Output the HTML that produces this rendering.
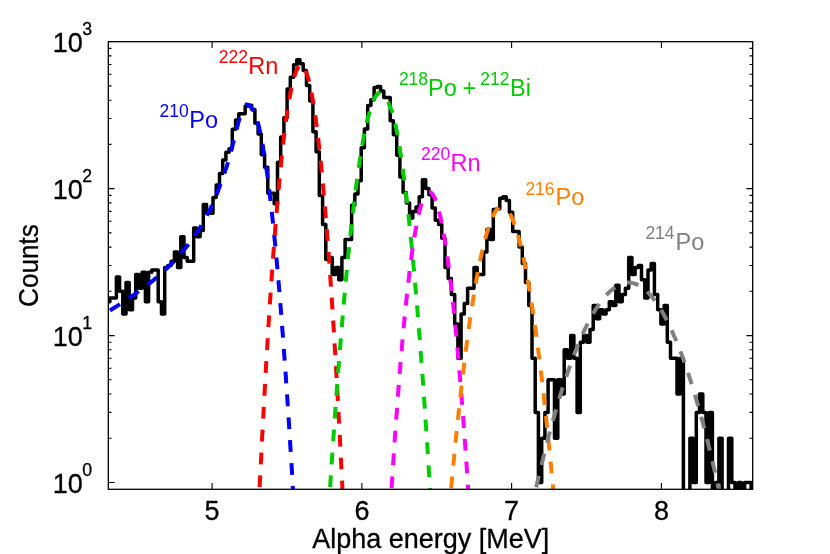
<!DOCTYPE html><html><head><meta charset="utf-8"><style>html,body{margin:0;padding:0;background:#fff;}svg{display:block;will-change:transform;}text{font-family:"Liberation Sans",sans-serif;stroke-width:0.3px;stroke-linejoin:round;}text.k{stroke:#000;}</style></head><body>
<svg width="830" height="554" viewBox="0 0 830 554">
<rect width="830" height="554" fill="#fff"/>
<defs><clipPath id="c"><rect x="108.3" y="41.7" width="644.4000000000001" height="447.6"/></clipPath></defs>
<g clip-path="url(#c)" fill="none" stroke="#000" stroke-width="3.5" stroke-linejoin="round" stroke-linecap="butt">
<path d="M105.1,301.7 L109.9,301.7 L109.9,298.1 L113.1,298.1 L113.1,298.1 L116.4,298.1 L116.4,277.1 L119.6,277.1 L119.6,291.3 L122.8,291.3 L122.8,314.1 L126.0,314.1 L126.0,282.4 L129.2,282.4 L129.2,309.7 L132.5,309.7 L132.5,298.1 L135.7,298.1 L135.7,274.6 L138.9,274.6 L138.9,288.2 L142.1,288.2 L142.1,272.2 L145.4,272.2 L145.4,301.7 L148.6,301.7 L148.6,272.2 L151.8,272.2 L151.8,269.9 L155.0,269.9 L155.0,269.9 L158.2,269.9 L158.2,301.7 L161.5,301.7 L161.5,314.1 L164.7,314.1 L164.7,267.6 L167.9,267.6 L167.9,265.5 L171.1,265.5 L171.1,261.3 L174.4,261.3 L174.4,252.1 L177.6,252.1 L177.6,267.6 L180.8,267.6 L180.8,236.8 L184.0,236.8 L184.0,257.5 L187.2,257.5 L187.2,261.3 L190.5,261.3 L190.5,261.3 L193.7,261.3 L193.7,228.0 L196.9,228.0 L196.9,236.8 L200.1,236.8 L200.1,230.4 L203.3,230.4 L203.3,204.5 L206.6,204.5 L206.6,213.2 L209.8,213.2 L209.8,213.2 L213.0,213.2 L213.0,197.5 L216.2,197.5 L216.2,184.9 L219.5,184.9 L219.5,173.4 L222.7,173.4 L222.7,159.9 L225.9,159.9 L225.9,152.2 L229.1,152.2 L229.1,148.7 L232.3,148.7 L232.3,129.2 L235.6,129.2 L235.6,120.0 L238.8,120.0 L238.8,113.8 L242.0,113.8 L242.0,113.8 L245.2,113.8 L245.2,106.0 L248.5,106.0 L248.5,105.2 L251.7,105.2 L251.7,109.6 L254.9,109.6 L254.9,123.2 L258.1,123.2 L258.1,134.1 L261.3,134.1 L261.3,154.8 L264.6,154.8 L264.6,167.2 L267.8,167.2 L267.8,193.3 L271.0,193.3 L271.0,193.3 L274.2,193.3 L274.2,203.7 L277.5,203.7 L277.5,162.3 L280.7,162.3 L280.7,136.9 L283.9,136.9 L283.9,117.7 L287.1,117.7 L287.1,88.9 L290.3,88.9 L290.3,77.2 L293.6,77.2 L293.6,64.7 L296.8,64.7 L296.8,59.8 L300.0,59.8 L300.0,63.7 L303.2,63.7 L303.2,70.5 L306.5,70.5 L306.5,85.4 L309.7,85.4 L309.7,101.1 L312.9,101.1 L312.9,131.7 L316.1,131.7 L316.1,151.8 L319.3,151.8 L319.3,195.4 L322.6,195.4 L322.6,224.5 L325.8,224.5 L325.8,259.4 L329.0,259.4 L329.0,257.5 L332.2,257.5 L332.2,274.6 L335.5,274.6 L335.5,267.6 L338.7,267.6 L338.7,279.7 L341.9,279.7 L341.9,257.5 L345.1,257.5 L345.1,239.6 L348.3,239.6 L348.3,239.6 L351.6,239.6 L351.6,205.3 L354.8,205.3 L354.8,194.0 L358.0,194.0 L358.0,180.8 L361.2,180.8 L361.2,147.7 L364.4,147.7 L364.4,128.9 L367.7,128.9 L367.7,105.5 L370.9,105.5 L370.9,99.7 L374.1,99.7 L374.1,87.4 L377.3,87.4 L377.3,86.6 L380.6,86.6 L380.6,91.1 L383.8,91.1 L383.8,97.5 L387.0,97.5 L387.0,97.5 L390.2,97.5 L390.2,120.7 L393.4,120.7 L393.4,134.7 L396.7,134.7 L396.7,155.2 L399.9,155.2 L399.9,177.0 L403.1,177.0 L403.1,192.6 L406.3,192.6 L406.3,202.9 L409.6,202.9 L409.6,218.1 L412.8,218.1 L412.8,211.4 L416.0,211.4 L416.0,207.0 L419.2,207.0 L419.2,196.8 L422.4,196.8 L422.4,179.7 L425.7,179.7 L425.7,188.6 L428.9,188.6 L428.9,194.7 L432.1,194.7 L432.1,207.9 L435.3,207.9 L435.3,220.2 L438.6,220.2 L438.6,224.5 L441.8,224.5 L441.8,238.2 L445.0,238.2 L445.0,267.6 L448.2,267.6 L448.2,278.4 L451.4,278.4 L451.4,294.6 L454.7,294.6 L454.7,323.9 L457.9,323.9 L457.9,358.3 L461.1,358.3 L461.1,314.1 L464.3,314.1 L464.3,303.6 L467.6,303.6 L467.6,288.2 L470.8,288.2 L470.8,288.2 L474.0,288.2 L474.0,267.6 L477.2,267.6 L477.2,274.6 L480.4,274.6 L480.4,274.6 L483.7,274.6 L483.7,252.1 L486.9,252.1 L486.9,229.2 L490.1,229.2 L490.1,239.6 L493.3,239.6 L493.3,209.6 L496.6,209.6 L496.6,208.7 L499.8,208.7 L499.8,198.3 L503.0,198.3 L503.0,196.8 L506.2,196.8 L506.2,200.5 L509.4,200.5 L509.4,212.3 L512.7,212.3 L512.7,231.6 L515.9,231.6 L515.9,231.6 L519.1,231.6 L519.1,247.1 L522.3,247.1 L522.3,263.4 L525.5,263.4 L525.5,282.4 L528.8,282.4 L528.8,305.6 L532.0,305.6 L532.0,358.3 L535.2,358.3 L535.2,412.4 L538.4,412.4 L538.4,482.5 L541.7,482.5 L541.7,438.3 L544.9,438.3 L544.9,412.4 L548.1,412.4 L548.1,379.8 L551.3,379.8 L551.3,379.8 L554.5,379.8 L554.5,438.3 L557.8,438.3 L557.8,379.8 L561.0,379.8 L561.0,394.0 L564.2,394.0 L564.2,349.8 L567.4,349.8 L567.4,358.3 L570.7,358.3 L570.7,335.6 L573.9,335.6 L573.9,358.3 L577.1,358.3 L577.1,412.4 L580.3,412.4 L580.3,342.3 L583.5,342.3 L583.5,335.6 L586.8,335.6 L586.8,342.3 L590.0,342.3 L590.0,329.5 L593.2,329.5 L593.2,305.6 L596.4,305.6 L596.4,318.8 L599.7,318.8 L599.7,309.7 L602.9,309.7 L602.9,314.1 L606.1,314.1 L606.1,309.7 L609.3,309.7 L609.3,301.7 L612.5,301.7 L612.5,305.6 L615.8,305.6 L615.8,285.3 L619.0,285.3 L619.0,301.7 L622.2,301.7 L622.2,294.6 L625.4,294.6 L625.4,288.2 L628.7,288.2 L628.7,257.5 L631.9,257.5 L631.9,274.6 L635.1,274.6 L635.1,267.6 L638.3,267.6 L638.3,265.5 L641.5,265.5 L641.5,279.7 L644.8,279.7 L644.8,298.1 L648.0,298.1 L648.0,269.9 L651.2,269.9 L651.2,263.4 L654.4,263.4 L654.4,294.6 L657.7,294.6 L657.7,309.7 L660.9,309.7 L660.9,323.9 L664.1,323.9 L664.1,305.6 L667.3,305.6 L667.3,342.3 L670.5,342.3 L670.5,358.3 L673.8,358.3 L673.8,358.3 L677.0,358.3 L677.0,394.0 L680.2,394.0 L680.2,358.3 L683.4,358.3 L683.4,520.0 L686.6,520.0 L686.6,520.0 L689.9,520.0 L689.9,438.3 L693.1,438.3 L693.1,482.5 L696.3,482.5 L696.3,412.4 L699.5,412.4 L699.5,394.0 L702.8,394.0 L702.8,412.4 L706.0,412.4 L706.0,482.5 L709.2,482.5 L709.2,412.4 L712.4,412.4 L712.4,520.0 L715.6,520.0 L715.6,482.5 L718.9,482.5 L718.9,438.3 L722.1,438.3 L722.1,520.0 L725.3,520.0 L725.3,520.0 L728.5,520.0 L728.5,438.3 L731.8,438.3 L731.8,482.5 L735.0,482.5 L735.0,520.0 L738.2,520.0 L738.2,482.5 L741.4,482.5 L741.4,520.0 L744.6,520.0 L744.6,482.5 L747.9,482.5 L747.9,482.5 L751.1,482.5 L751.1,520.0 L754.3,520.0"/>
</g>
<g clip-path="url(#c)" fill="none" stroke-linecap="butt" stroke-linejoin="round">
<path d="M100.0,316.0 L100.6,315.7 L101.4,315.3 L102.3,314.8 L103.4,314.2 L104.6,313.6 L105.8,312.9 L107.0,312.2 L108.3,311.5 L109.6,310.7 L111.1,309.8 L112.7,308.8 L114.3,307.8 L115.9,306.8 L117.4,305.8 L118.9,304.9 L120.2,304.0 L121.4,303.2 L122.5,302.5 L123.4,301.9 L124.4,301.2 L125.3,300.6 L126.3,300.0 L127.3,299.3 L128.4,298.5 L129.6,297.6 L131.0,296.7 L132.3,295.8 L133.8,294.8 L135.2,293.8 L136.5,292.8 L137.9,291.9 L139.1,291.0 L140.2,290.2 L141.3,289.4 L142.3,288.7 L143.2,288.0 L144.2,287.3 L145.2,286.6 L146.2,285.8 L147.3,285.0 L148.5,284.1 L149.8,283.1 L151.1,282.1 L152.4,281.0 L153.7,280.0 L155.0,278.9 L156.3,277.9 L157.4,277.0 L158.4,276.1 L159.3,275.3 L160.2,274.6 L161.0,273.8 L161.8,273.1 L162.6,272.3 L163.5,271.4 L164.5,270.5 L165.6,269.5 L166.8,268.4 L168.0,267.2 L169.2,266.1 L170.5,264.9 L171.7,263.7 L172.8,262.6 L173.9,261.5 L174.8,260.5 L175.7,259.6 L176.5,258.7 L177.2,257.8 L178.0,256.9 L178.7,256.0 L179.5,255.0 L180.4,254.0 L181.3,252.9 L182.3,251.8 L183.3,250.6 L184.3,249.3 L185.4,248.1 L186.4,246.9 L187.4,245.7 L188.3,244.5 L189.2,243.4 L190.0,242.3 L190.8,241.2 L191.6,240.1 L192.4,239.0 L193.2,237.9 L194.0,236.7 L194.8,235.5 L195.7,234.2 L196.6,232.8 L197.6,231.4 L198.5,229.9 L199.5,228.5 L200.4,227.1 L201.2,225.7 L202.0,224.5 L202.7,223.4 L203.2,222.4 L203.8,221.5 L204.2,220.6 L204.7,219.7 L205.2,218.8 L205.8,217.7 L206.4,216.5 L207.1,215.1 L207.9,213.6 L208.7,212.0 L209.6,210.3 L210.5,208.6 L211.3,206.8 L212.1,205.1 L212.9,203.5 L213.6,201.9 L214.3,200.4 L214.9,198.8 L215.5,197.3 L216.2,195.8 L216.8,194.2 L217.4,192.6 L218.0,191.0 L218.6,189.3 L219.3,187.6 L219.9,185.8 L220.5,184.0 L221.2,182.2 L221.8,180.5 L222.4,178.7 L223.0,177.0 L223.6,175.3 L224.2,173.7 L224.8,172.1 L225.3,170.4 L225.9,168.8 L226.5,167.2 L227.0,165.6 L227.5,164.0 L228.0,162.4 L228.4,160.8 L228.9,159.1 L229.3,157.5 L229.7,155.9 L230.1,154.2 L230.6,152.6 L231.0,151.0 L231.4,149.4 L231.9,147.7 L232.3,146.1 L232.8,144.4 L233.2,142.8 L233.7,141.2 L234.1,139.6 L234.5,138.0 L234.9,136.4 L235.3,134.9 L235.7,133.4 L236.0,131.8 L236.4,130.3 L236.8,128.9 L237.1,127.4 L237.5,126.0 L237.9,124.6 L238.2,123.2 L238.6,121.8 L239.0,120.5 L239.4,119.2 L239.8,117.9 L240.1,116.7" stroke="#0000ff" stroke-width="4.0" stroke-dasharray="11.8,11.1" stroke-dashoffset="11.54"/>
<path d="M243.4,105.6 L243.7,105.4 L244.1,105.2 L244.6,105.0 L245.0,104.8 L245.4,104.7 L245.7,104.6 L246.1,104.5 L246.5,104.5 L247.0,104.5 L247.5,104.6 L248.0,104.8 L248.5,105.0 L249.0,105.3 L249.5,105.7 L250.0,106.1 L250.5,106.6 L251.0,107.2 L251.5,107.8 L252.0,108.5 L252.5,109.2 L253.0,110.0 L253.6,110.9 L254.1,111.7 L254.5,112.3 L254.9,113.0 L255.4,114.5 L256.0,116.2 L256.6,118.0 L257.2,120.0 L257.7,122.0 L258.3,124.2 L258.9,126.5 L259.4,129.0 L260.0,131.5 L260.6,134.2 L261.2,137.0 L261.7,139.9 L262.3,143.0 L262.9,146.2 L263.4,149.5 L264.0,152.9 L264.6,156.5 L265.2,160.2 L265.7,164.0 L266.3,167.9 L266.9,171.9 L267.5,176.1 L268.0,180.4 L268.6,184.9 L269.2,189.4 L269.7,194.1 L270.3,198.9 L270.9,203.8 L271.5,208.9 L272.0,214.1 L272.6,219.4 L273.2,224.8 L273.7,230.3 L274.3,236.0 L274.9,241.8 L275.5,247.7 L276.0,253.8 L276.6,260.0 L277.2,266.3 L277.8,272.7 L278.3,279.3 L278.9,285.9 L279.5,292.7 L280.0,299.7 L280.6,306.7 L281.2,313.9 L281.8,321.2 L282.3,328.6 L282.9,336.2 L283.5,343.8 L284.0,351.6 L284.6,359.6 L285.2,367.6 L285.8,375.8 L286.3,384.1 L286.9,392.5 L287.5,401.0 L288.0,409.7 L288.6,418.5 L289.2,427.4 L289.8,436.5 L290.3,445.7 L290.9,454.9 L291.5,464.4 L292.1,473.9 L292.6,483.6 L293.2,493.4 L293.8,503.3" stroke="#0000ff" stroke-width="4.0" stroke-dasharray="11.8,11.1" stroke-dashoffset="21.10"/>
<path d="M258.8,503.3 L259.9,481.7 L261.0,460.6 L262.0,440.1 L263.1,420.1 L264.1,400.7 L265.2,381.8 L266.2,363.5 L267.3,345.7 L268.3,328.5 L269.4,311.8 L270.4,295.6 L271.5,280.0 L272.5,265.0 L273.6,250.5 L274.7,236.5 L275.7,223.1 L276.8,210.2 L277.8,197.9 L278.9,186.2 L279.9,175.0 L281.0,164.3 L282.0,154.2 L283.1,144.6 L284.1,135.5 L285.2,127.1 L286.2,119.1 L287.3,111.7 L288.4,104.9 L289.4,98.6 L290.5,92.9 L291.5,87.7 L292.6,83.0 L293.6,78.9 L294.7,75.4 L295.7,72.3 L296.8,69.9 L297.8,68.0 L298.9,66.6 L299.9,65.8 L301.0,65.5" stroke="#ff0000" stroke-width="4.0" stroke-dasharray="11.8,11.1" stroke-dashoffset="6.80"/>
<path d="M301.0,65.5 L302.1,65.8 L303.1,66.6 L304.2,68.0 L305.2,69.9 L306.3,72.3 L307.3,75.4 L308.4,78.9 L309.4,83.0 L310.5,87.7 L311.5,92.9 L312.6,98.6 L313.6,104.9 L314.7,111.7 L315.8,119.1 L316.8,127.1 L317.9,135.5 L318.9,144.6 L320.0,154.2 L321.0,164.3 L322.1,175.0 L323.1,186.2 L324.2,197.9 L325.2,210.2 L326.3,223.1 L327.3,236.5 L328.4,250.5 L329.5,265.0 L330.5,280.0 L331.6,295.6 L332.6,311.8 L333.7,328.5 L334.7,345.7 L335.8,363.5 L336.8,381.8 L337.9,400.7 L338.9,420.1 L340.0,440.1 L341.0,460.6 L342.1,481.7 L343.2,503.3" stroke="#ff0000" stroke-width="4.0" stroke-dasharray="11.8,11.1" stroke-dashoffset="15.81"/>
<path d="M329.1,503.3 L329.7,493.0 L330.4,482.9 L331.0,472.9 L331.7,463.0 L332.4,453.3 L333.0,443.6 L333.7,434.1 L334.3,424.8 L335.0,415.5 L335.6,406.4 L336.3,397.5 L336.9,388.6 L337.6,379.9 L338.2,371.3 L338.9,362.8 L339.5,354.5 L340.2,346.3 L340.9,338.2 L341.5,330.3 L342.2,322.5 L342.8,314.8 L343.5,307.2 L344.1,299.8 L344.8,292.5 L345.4,285.3 L346.1,278.3 L346.7,271.4 L347.4,264.6 L348.0,258.0 L348.7,251.4 L349.4,245.1 L350.0,238.8 L350.7,232.7 L351.3,226.6 L352.0,220.8 L352.6,215.0 L353.3,209.4 L353.9,203.9 L354.6,198.6 L355.2,193.3 L355.9,188.2 L356.5,183.3 L357.2,178.4 L357.9,173.7 L358.5,169.1 L359.2,164.7 L359.8,160.3 L360.5,156.1 L361.1,152.1 L361.8,148.1 L362.4,144.3 L363.1,140.6 L363.7,137.1 L364.4,133.7 L365.1,130.4 L365.7,127.2 L366.4,124.2 L367.0,121.3 L367.7,118.5 L368.0,117.1 L368.4,115.9 L369.0,114.3 L369.6,112.4 L370.2,110.5 L370.8,108.6 L371.3,106.6 L371.9,104.6 L372.5,102.8 L373.1,101.2 L373.7,99.8 L374.3,98.5 L375.0,97.3 L375.7,96.2 L376.4,95.2 L377.2,94.3 L378.0,93.5 L378.9,92.7 L379.8,91.9 L380.8,91.3 L381.5,90.8 L382.1,90.5 L382.5,90.5 L382.8,90.5 L383.0,90.5" stroke="#00cc00" stroke-width="4.0" stroke-dasharray="11.8,11.1" stroke-dashoffset="6.72"/>
<path d="M386.4,96.5 L386.6,97.2 L387.0,98.3 L387.4,99.5 L387.8,100.8 L388.3,102.1 L388.8,103.5 L389.4,105.0 L390.0,106.5 L390.7,108.1 L391.4,109.9 L392.0,111.4 L392.5,112.5 L392.9,113.3 L393.5,115.8 L394.1,118.5 L394.7,121.3 L395.3,124.2 L396.0,127.2 L396.6,130.4 L397.2,133.7 L397.8,137.1 L398.5,140.6 L399.1,144.3 L399.7,148.1 L400.3,152.1 L401.0,156.1 L401.6,160.3 L402.2,164.7 L402.8,169.1 L403.5,173.7 L404.1,178.4 L404.7,183.3 L405.3,188.2 L405.9,193.3 L406.6,198.6 L407.2,203.9 L407.8,209.4 L408.4,215.0 L409.1,220.8 L409.7,226.6 L410.3,232.7 L410.9,238.8 L411.6,245.1 L412.2,251.4 L412.8,258.0 L413.4,264.6 L414.1,271.4 L414.7,278.3 L415.3,285.3 L415.9,292.5 L416.6,299.8 L417.2,307.2 L417.8,314.8 L418.4,322.5 L419.0,330.3 L419.7,338.2 L420.3,346.3 L420.9,354.5 L421.5,362.8 L422.2,371.3 L422.8,379.9 L423.4,388.6 L424.0,397.5 L424.7,406.4 L425.3,415.5 L425.9,424.8 L426.5,434.1 L427.2,443.6 L427.8,453.3 L428.4,463.0 L429.0,472.9 L429.7,482.9 L430.3,493.0 L430.9,503.3" stroke="#00cc00" stroke-width="4.0" stroke-dasharray="11.8,11.1" stroke-dashoffset="17.20"/>
<path d="M390.6,503.3 L391.1,495.6 L391.6,487.9 L392.1,480.4 L392.6,472.9 L393.0,465.6 L393.5,458.3 L394.0,451.2 L394.5,444.1 L394.9,437.2 L395.4,430.3 L395.9,423.5 L396.4,416.9 L396.9,410.3 L397.3,403.8 L397.8,397.4 L398.3,391.2 L398.8,385.0 L399.3,378.9 L399.7,372.9 L400.2,367.0 L400.7,361.2 L401.2,355.5 L401.7,349.9 L402.1,344.4 L402.6,339.0 L403.1,333.7 L403.6,328.5 L404.1,323.4 L404.5,318.4 L405.0,313.5 L405.5,308.7 L406.0,303.9 L406.5,299.3 L406.9,294.8 L407.4,290.4 L407.9,286.0 L408.4,281.8 L408.9,277.7 L409.3,273.6 L409.8,269.7 L410.3,265.8 L410.8,262.1 L411.3,258.4 L411.7,254.9 L412.2,251.4 L412.7,248.1 L413.2,244.8 L413.7,241.6 L414.1,238.6 L414.6,235.6 L415.1,232.7 L415.6,230.0 L416.1,227.3 L416.5,224.7 L417.0,222.2 L417.5,219.8 L418.0,217.5 L418.4,215.4 L418.9,213.3 L419.4,211.3 L419.9,209.4 L420.4,207.6 L420.8,205.9 L421.3,204.3 L421.8,202.8" stroke="#ff00ff" stroke-width="4.0" stroke-dasharray="11.8,11.1" stroke-dashoffset="7.67"/>
<path d="M429.0,191.8 L430.0,192.0 L431.0,192.6 L432.0,193.6 L433.0,194.9 L434.0,196.7 L435.0,198.8 L436.0,201.3 L437.0,204.3 L438.0,207.6 L439.0,211.3 L440.0,215.4 L441.0,219.8 L442.0,224.7 L443.0,230.0 L444.0,235.6 L445.0,241.6 L446.0,248.1 L447.1,254.9 L448.1,262.1 L449.1,269.7 L450.1,277.7 L451.1,286.0 L452.1,294.8 L453.1,303.9 L454.1,313.5 L455.1,323.4 L456.1,333.7 L457.1,344.4 L458.1,355.5 L459.1,367.0 L460.1,378.9 L461.1,391.2 L462.1,403.8 L463.1,416.9 L464.1,430.3 L465.1,444.1 L466.1,458.3 L467.1,472.9 L468.1,487.9 L469.1,503.3" stroke="#ff00ff" stroke-width="4.0" stroke-dasharray="11.8,11.1" stroke-dashoffset="22.85"/>
<path d="M449.8,503.3 L451.1,488.6 L452.4,474.3 L453.8,460.3 L455.1,446.7 L456.4,433.5 L457.8,420.7 L459.1,408.2 L460.4,396.1 L461.7,384.4 L463.1,373.0 L464.4,362.0 L465.7,351.4 L467.1,341.2 L468.4,331.3 L469.7,321.8 L471.1,312.7 L472.4,304.0 L473.7,295.6 L475.1,287.6 L476.4,279.9 L477.7,272.7 L479.0,265.8 L480.4,259.3 L481.7,253.1 L483.0,247.4 L484.4,242.0 L485.7,237.0 L487.0,232.3 L488.4,228.0 L489.7,224.1 L491.0,220.6 L492.4,217.4 L493.7,214.6 L495.0,212.2 L496.3,210.2 L497.7,208.5 L499.0,207.2 L500.3,206.2 L501.7,205.7 L503.0,205.5" stroke="#ff8000" stroke-width="4.0" stroke-dasharray="11.8,11.1" stroke-dashoffset="7.82"/>
<path d="M509.7,213.4 L510.4,214.6 L511.0,216.0 L511.7,217.4 L512.4,218.9 L513.0,220.6 L513.7,222.3 L514.4,224.1 L515.0,226.0 L515.7,228.0 L516.4,230.1 L517.0,232.3 L517.7,234.6 L518.4,237.0 L519.0,239.4 L519.7,242.0 L520.4,244.6 L521.0,247.4 L521.7,250.2 L522.4,253.1 L523.1,256.2 L523.7,259.3 L524.4,262.5 L525.1,265.8 L525.7,269.2 L526.4,272.7 L527.1,276.3 L527.7,280.0 L528.4,283.7 L529.1,287.6 L529.7,291.5 L530.4,295.6 L531.1,299.7 L531.7,304.0 L532.4,308.3 L533.1,312.7 L533.7,317.2 L534.4,321.8 L535.1,326.5 L535.7,331.3 L536.4,336.2 L537.1,341.2 L537.8,346.3 L538.4,351.4 L539.1,356.7 L539.8,362.0 L540.4,367.5 L541.1,373.0 L541.8,378.6 L542.4,384.4 L543.1,390.2 L543.8,396.1 L544.4,402.1 L545.1,408.2 L545.8,414.4 L546.4,420.7 L547.1,427.0 L547.8,433.5 L548.4,440.1 L549.1,446.7 L549.8,453.5 L550.5,460.3 L551.1,467.2 L551.8,474.3 L552.5,481.4 L553.1,488.6 L553.8,495.9 L554.5,503.3" stroke="#ff8000" stroke-width="4.0" stroke-dasharray="11.8,11.1" stroke-dashoffset="22.48"/>
<path d="M532.7,503.3 L533.9,497.8 L535.1,492.4 L536.3,487.1 L537.5,481.8 L538.7,476.6 L539.9,471.4 L541.1,466.4 L542.4,461.3 L543.6,456.4 L544.8,451.6 L546.0,446.8 L547.2,442.0 L548.4,437.4 L549.6,432.8 L550.8,428.3 L552.0,423.8 L553.2,419.4 L554.5,415.1 L555.7,410.9 L556.9,406.7 L558.1,402.6 L559.3,398.6 L560.5,394.6 L561.7,390.7 L562.9,386.9 L564.1,383.1 L565.4,379.4 L566.6,375.8 L567.8,372.2 L569.0,368.7 L570.2,365.3 L571.4,362.0 L572.6,358.7 L573.8,355.5 L575.0,352.4 L576.2,349.3 L577.5,346.3 L578.7,343.4 L579.9,340.5 L581.1,337.7 L582.3,335.0 L583.5,332.3 L584.7,329.7 L585.9,327.2 L587.1,324.8 L588.3,322.4 L589.6,320.1 L590.8,317.8 L592.0,315.7 L593.2,313.6 L594.4,311.5 L595.6,309.5 L596.8,307.7 L598.0,305.8 L599.2,304.1 L600.5,302.4 L601.7,300.8 L602.9,299.2 L604.1,297.7 L605.3,296.3 L606.5,295.0 L607.7,293.7 L608.9,292.5 L610.1,291.3 L611.3,290.3 L612.6,289.3 L613.8,288.3 L615.0,287.5 L616.2,286.7" stroke="#808080" stroke-width="4.0" stroke-dasharray="11.8,11.1" stroke-dashoffset="6.59"/>
<path d="M626.8,282.5 L628.0,282.5 L629.2,282.5 L630.3,282.6 L631.5,282.8 L632.7,283.1 L633.9,283.4 L635.0,283.7 L636.2,284.2 L637.4,284.7 L638.6,285.3 L639.7,285.9 L640.9,286.7 L642.1,287.5 L643.2,288.3 L644.4,289.3 L645.6,290.3 L646.8,291.3 L647.9,292.5 L649.1,293.7 L650.3,295.0 L651.5,296.3 L652.6,297.7 L653.8,299.2 L655.0,300.8 L656.1,302.4 L657.3,304.1 L658.5,305.8 L659.7,307.7 L660.8,309.5 L662.0,311.5 L663.2,313.5 L664.4,315.7 L665.5,317.8 L666.7,320.1 L667.9,322.4 L669.1,324.8 L670.2,327.2 L671.4,329.7 L672.6,332.3 L673.7,335.0 L674.9,337.7 L676.1,340.5 L677.3,343.4 L678.4,346.3 L679.6,349.3 L680.8,352.4 L682.0,355.5 L683.1,358.7 L684.3,362.0 L685.5,365.3 L686.6,368.7 L687.8,372.2 L689.0,375.8 L690.2,379.4 L691.3,383.1 L692.5,386.9 L693.7,390.7 L694.9,394.6 L696.0,398.6 L697.2,402.6 L698.4,406.7 L699.5,410.9 L700.7,415.1 L701.9,419.4 L703.1,423.8 L704.2,428.3 L705.4,432.8 L706.6,437.4 L707.8,442.0 L708.9,446.8 L710.1,451.5 L711.3,456.4 L712.4,461.3 L713.6,466.4 L714.8,471.4 L716.0,476.6 L717.1,481.8 L718.3,487.1 L719.5,492.4 L720.7,497.8 L721.8,503.3" stroke="#808080" stroke-width="4.0" stroke-dasharray="11.8,11.1" stroke-dashoffset="22.70"/>
</g>
<rect x="108.3" y="41.7" width="644.4000000000001" height="447.6" fill="none" stroke="#000" stroke-width="1.3"/>
<path d="M212.1,489.3 v-6.3 M212.1,41.7 v6.3 M361.9,489.3 v-6.3 M361.9,41.7 v6.3 M511.6,489.3 v-6.3 M511.6,41.7 v6.3 M661.4,489.3 v-6.3 M661.4,41.7 v6.3 M108.3,482.5 h6.3 M752.7,482.5 h-6.3 M108.3,438.3 h3.2 M752.7,438.3 h-3.2 M108.3,412.4 h3.2 M752.7,412.4 h-3.2 M108.3,394.0 h3.2 M752.7,394.0 h-3.2 M108.3,379.8 h3.2 M752.7,379.8 h-3.2 M108.3,368.2 h3.2 M752.7,368.2 h-3.2 M108.3,358.3 h3.2 M752.7,358.3 h-3.2 M108.3,349.8 h3.2 M752.7,349.8 h-3.2 M108.3,342.3 h3.2 M752.7,342.3 h-3.2 M108.3,335.6 h6.3 M752.7,335.6 h-6.3 M108.3,291.3 h3.2 M752.7,291.3 h-3.2 M108.3,265.5 h3.2 M752.7,265.5 h-3.2 M108.3,247.1 h3.2 M752.7,247.1 h-3.2 M108.3,232.9 h3.2 M752.7,232.9 h-3.2 M108.3,221.2 h3.2 M752.7,221.2 h-3.2 M108.3,211.4 h3.2 M752.7,211.4 h-3.2 M108.3,202.9 h3.2 M752.7,202.9 h-3.2 M108.3,195.4 h3.2 M752.7,195.4 h-3.2 M108.3,188.6 h6.3 M752.7,188.6 h-6.3 M108.3,144.4 h3.2 M752.7,144.4 h-3.2 M108.3,118.5 h3.2 M752.7,118.5 h-3.2 M108.3,100.2 h3.2 M752.7,100.2 h-3.2 M108.3,85.9 h3.2 M752.7,85.9 h-3.2 M108.3,74.3 h3.2 M752.7,74.3 h-3.2 M108.3,64.5 h3.2 M752.7,64.5 h-3.2 M108.3,55.9 h3.2 M752.7,55.9 h-3.2 M108.3,48.4 h3.2 M752.7,48.4 h-3.2" stroke="#000" stroke-width="1.1" fill="none"/>
<text class="k" x="212.1" y="520.2" font-size="27" text-anchor="middle">5</text>
<text class="k" x="361.9" y="520.2" font-size="27" text-anchor="middle">6</text>
<text class="k" x="511.6" y="520.2" font-size="27" text-anchor="middle">7</text>
<text class="k" x="661.4" y="520.2" font-size="27" text-anchor="middle">8</text>
<text class="k" x="82.8" y="492.8" font-size="27" text-anchor="end">10</text>
<text class="k" x="82.2" y="476.1" font-size="17.7" text-anchor="start">0</text>
<text class="k" x="82.8" y="345.9" font-size="27" text-anchor="end">10</text>
<text class="k" x="82.2" y="329.2" font-size="17.7" text-anchor="start">1</text>
<text class="k" x="82.8" y="198.9" font-size="27" text-anchor="end">10</text>
<text class="k" x="82.2" y="182.2" font-size="17.7" text-anchor="start">2</text>
<text class="k" x="82.8" y="52.0" font-size="27" text-anchor="end">10</text>
<text class="k" x="82.2" y="35.3" font-size="17.7" text-anchor="start">3</text>
<text class="k" x="430.8" y="548.2" font-size="27" text-anchor="middle">Alpha energy [MeV]</text>
<text class="k" transform="translate(38.3,265.5) rotate(-90)" font-size="28" text-anchor="middle" textLength="82.8" lengthAdjust="spacingAndGlyphs">Counts</text>
<text x="159.6" y="117.2" font-size="17.5" fill="#0000ff">210</text>
<text x="189.3" y="128.0" font-size="23.5" fill="#0000ff">Po</text>
<text x="218.8" y="63.1" font-size="17.5" fill="#ff0000">222</text>
<text x="248.3" y="73.9" font-size="23.5" fill="#ff0000">Rn</text>
<text x="398.9" y="84.7" font-size="17.5" fill="#00cc00">218</text>
<text x="428.1" y="95.5" font-size="23.5" fill="#00cc00">Po</text>
<text x="480.3" y="84.7" font-size="17.5" fill="#00cc00">212</text>
<text x="510.1" y="95.5" font-size="23.5" fill="#00cc00">Bi</text>
<text x="421.0" y="160.0" font-size="17.5" fill="#ff00ff">220</text>
<text x="450.5" y="170.8" font-size="23.5" fill="#ff00ff">Rn</text>
<text x="525.4" y="194.6" font-size="17.5" fill="#ff8000">216</text>
<text x="555.5" y="205.4" font-size="23.5" fill="#ff8000">Po</text>
<text x="645.4" y="238.8" font-size="17.5" fill="#808080">214</text>
<text x="675.5" y="249.6" font-size="23.5" fill="#808080">Po</text>
<text x="462.5" y="95.5" font-size="23.5" fill="#00cc00">+</text>
</svg></body></html>
